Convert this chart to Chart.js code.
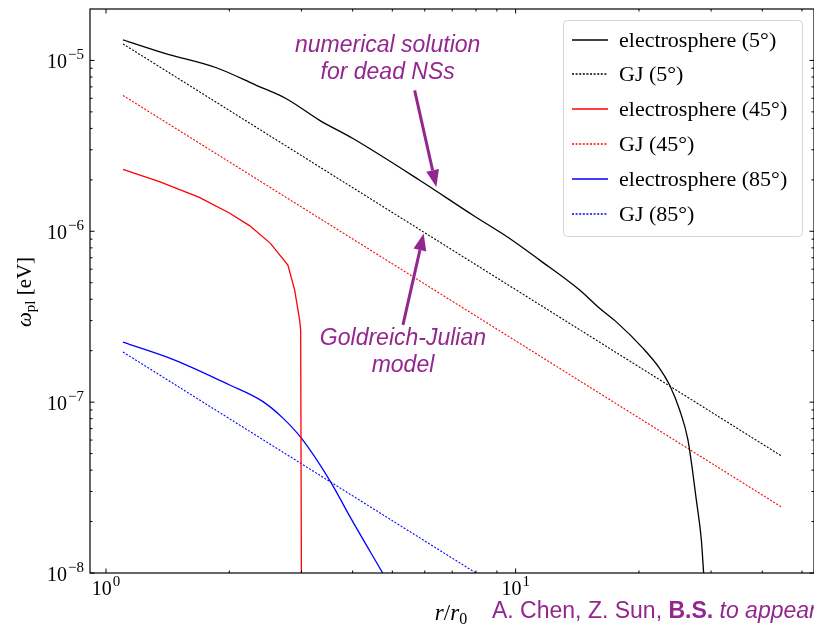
<!DOCTYPE html>
<html>
<head>
<meta charset="utf-8">
<script src="https://cdn.jsdelivr.net/npm/chart.js@4.4.1/dist/chart.umd.min.js"></script>
<style>
  html, body { margin: 0; padding: 0; background: #fff; overflow: hidden; }
  #plot { display: block; }
</style>
</head>
<body>
<canvas id="plot" width="814" height="627"></canvas>
<script>
// axis ranges (log-log)
var xMin = 0.914, xMax = 53.5;
var yMin = 1e-8, yMax = 2e-5;

// tick labels: 10^exp
var xMajor = [1, 10];
var xMajorExp = ['0', '1'];
var yMajor = [1e-8, 1e-7, 1e-6, 1e-5];
var yMajorExp = ['\u22128', '\u22127', '\u22126', '\u22125'];

// electrosphere (5 deg) - numerical solution
var es5R = [1.1, 1.404, 1.86, 2.328, 2.756, 3.323, 4.007, 5.831, 7.867, 9.67, 11.45, 14.33, 16.03, 17.61, 20.45, 22.46, 23.76, 25.14, 26.34, 27.61, 28.4, 28.77];
var es5W = [1.32e-5, 1.094e-5, 9.06e-6, 7.15e-6, 5.97e-6, 4.46e-6, 3.49e-6, 1.99e-6, 1.242e-6, 9.08e-7, 6.78e-7, 4.53e-7, 3.54e-7, 2.95e-7, 2.07e-7, 1.578e-7, 1.26e-7, 9.0e-8, 6.01e-8, 2.68e-8, 1.565e-8, 1.0e-8];

// GJ (5 deg)
var gj5R = [1.1, 44.5];
var gj5W = [1.25e-5, 4.85e-8];

// electrosphere (45 deg)
var es45R = [1.1, 1.35, 1.69, 2.0, 2.24, 2.52, 2.78, 2.888, 2.97, 2.987, 2.999];
var es45W = [2.3e-6, 1.95e-6, 1.58e-6, 1.28e-6, 1.08e-6, 8.5e-7, 6.34e-7, 4.53e-7, 3.02e-7, 2.64e-7, 1.0e-8];

// GJ (45 deg)
var gj45R = [1.1, 44.5];
var gj45W = [6.24e-6, 2.44e-8];

// electrosphere (85 deg)
var es85R = [1.1, 1.471, 2.004, 2.416, 2.7, 2.999, 3.549, 3.918, 4.736];
var es85W = [2.247e-7, 1.764e-7, 1.26e-7, 1.007e-7, 8.09e-8, 6.15e-8, 3.36e-8, 2.19e-8, 1.0e-8];

// GJ (85 deg)
var gj85R = [1.1, 8.0];
var gj85W = [1.965e-7, 1.0e-8];

// annotations, in data coordinates
var noteColor = '#93278f';
var note1Lines = ['numerical solution', 'for dead NSs'];
var note1X = 4.871, note1Y = [1.118e-5, 7.74e-6];
var arrow1 = { from: [5.668, 6.68e-6], to: [6.404, 1.817e-6] };
var note2Lines = ['Goldreich-Julian', 'model'];
var note2X = 5.308, note2Y = [2.16e-7, 1.508e-7];
var arrow2 = { from: [5.308, 2.83e-7], to: [5.963, 9.71e-7] };

/////////////////////////////////////////////////////////

function pts(xs, ys) {
  return xs.map(function (x, i) { return { x: x, y: ys[i] }; });
}

function series(label, xs, ys, color, dotted, smooth) {
  return {
    label: label,
    data: pts(xs, ys),
    borderColor: color,
    backgroundColor: color,
    borderWidth: dotted ? 1.1 : 1.3,
    borderDash: dotted ? [2, 1.6] : [],
    pointRadius: 0,
    pointHoverRadius: 0,
    tension: smooth ? 0.4 : 0,
    cubicInterpolationMode: smooth ? 'monotone' : 'default',
    fill: false,
    showLine: true
  };
}

var SERIF = '"Liberation Serif", "Times New Roman", serif';
var SANS = '"Liberation Sans", Arial, sans-serif';

function powLabel(ctx, exp, x, y, align) {
  ctx.font = '20px ' + SERIF;
  var wb = ctx.measureText('10').width;
  ctx.font = '15px ' + SERIF;
  var we = ctx.measureText(exp).width + 1;
  var x0 = align === 'right' ? x - wb - we : x - (wb + we) / 2;
  ctx.textAlign = 'left';
  ctx.textBaseline = 'alphabetic';
  ctx.font = '20px ' + SERIF;
  ctx.fillText('10', x0, y);
  ctx.font = '15px ' + SERIF;
  ctx.fillText(exp, x0 + wb + 1, y - 9);
}

function drawArrow(ctx, x0, y0, x1, y1) {
  var ang = Math.atan2(y1 - y0, x1 - x0);
  var L = 17, hw = 6.5;
  var bx = x1 - L * Math.cos(ang), by = y1 - L * Math.sin(ang);
  ctx.beginPath();
  ctx.moveTo(x0, y0);
  ctx.lineTo(bx, by);
  ctx.lineWidth = 3;
  ctx.stroke();
  ctx.beginPath();
  ctx.moveTo(x1, y1);
  ctx.lineTo(bx + hw * Math.sin(ang), by - hw * Math.cos(ang));
  ctx.lineTo(bx - hw * Math.sin(ang), by + hw * Math.cos(ang));
  ctx.closePath();
  ctx.fill();
}

function pieces(ctx, parts, x, y) {
  // parts: [text, font, dy]
  var cx = x;
  parts.forEach(function (p) {
    ctx.font = p[1];
    ctx.fillText(p[0], cx, y + (p[2] || 0));
    cx += ctx.measureText(p[0]).width;
  });
  return cx - x;
}

function piecesWidth(ctx, parts) {
  var w = 0;
  parts.forEach(function (p) { ctx.font = p[1]; w += ctx.measureText(p[0]).width; });
  return w;
}

var decor = {
  id: 'decor',
  afterDatasetsDraw: function (chart) {
    var ctx = chart.ctx, a = chart.chartArea;
    var xs = chart.scales.x, ys = chart.scales.y;
    ctx.save();
    ctx.strokeStyle = '#000';
    ctx.lineWidth = 1;

    function seg(x0, y0, x1, y1) {
      ctx.beginPath(); ctx.moveTo(x0, y0); ctx.lineTo(x1, y1); ctx.stroke();
    }

    // inward ticks, mirrored on all four sides
    for (var d = -1; d <= 2; d++) {
      for (var k = 1; k <= 9; k++) {
        var v = k * Math.pow(10, d);
        if (v < xMin || v > xMax) continue;
        var len = k === 1 ? 4.5 : 2.5;
        var p = xs.getPixelForValue(v);
        seg(p, a.bottom, p, a.bottom - len);
        seg(p, a.top, p, a.top + len);
      }
    }
    for (var e = -9; e <= -4; e++) {
      for (var j = 1; j <= 9; j++) {
        var w = j * Math.pow(10, e);
        if (w < yMin * 0.999 || w > yMax * 0.999) continue;
        var ln = j === 1 ? 4.5 : 2.5;
        var q = ys.getPixelForValue(w);
        seg(a.left, q, a.left + ln, q);
        seg(a.right, q, a.right - ln, q);
      }
    }

    // frame
    ctx.lineWidth = 1.2;
    ctx.strokeRect(a.left, a.top, a.right - a.left, a.bottom - a.top);
    ctx.restore();
  },
  afterDraw: function (chart) {
    var ctx = chart.ctx, a = chart.chartArea;
    var xs = chart.scales.x, ys = chart.scales.y;
    ctx.save();
    ctx.fillStyle = '#000';

    // tick labels
    yMajor.forEach(function (v, i) {
      powLabel(ctx, yMajorExp[i], a.left - 6, ys.getPixelForValue(v) + 8, 'right');
    });
    xMajor.forEach(function (v, i) {
      powLabel(ctx, xMajorExp[i], xs.getPixelForValue(v), a.bottom + 22, 'center');
    });

    // y title: omega_pl [eV]
    ctx.save();
    ctx.translate(31, 292);
    ctx.rotate(-Math.PI / 2);
    ctx.textAlign = 'left';
    ctx.textBaseline = 'alphabetic';
    var yParts = [['\u03c9', 'italic 21px ' + SERIF, 0], ['pl', '15px ' + SERIF, 4], [' [eV]', '21px ' + SERIF, 0]];
    pieces(ctx, yParts, -piecesWidth(ctx, yParts) / 2, 0);
    ctx.restore();

    // x title: r / r_0
    ctx.textAlign = 'left';
    var xParts = [['r', 'italic 23px ' + SERIF, 0], ['/', '23px ' + SERIF, 0], ['r', 'italic 23px ' + SERIF, 0], ['0', '16px ' + SERIF, 4]];
    pieces(ctx, xParts, 451 - piecesWidth(ctx, xParts) / 2, 620);

    // attribution
    ctx.fillStyle = noteColor;
    pieces(ctx, [
      ['A. Chen, Z. Sun, ', '23px ' + SANS, 0],
      ['B.S.', 'bold 23px ' + SANS, 0],
      [' to appear', 'italic 23px ' + SANS, 0]
    ], 492, 618);

    // annotations
    ctx.textAlign = 'center';
    ctx.font = 'italic 23px ' + SANS;
    note1Lines.forEach(function (t, i) {
      ctx.fillText(t, xs.getPixelForValue(note1X), ys.getPixelForValue(note1Y[i]));
    });
    note2Lines.forEach(function (t, i) {
      ctx.fillText(t, xs.getPixelForValue(note2X), ys.getPixelForValue(note2Y[i]));
    });
    ctx.strokeStyle = noteColor;
    [arrow1, arrow2].forEach(function (ar) {
      drawArrow(ctx,
        xs.getPixelForValue(ar.from[0]), ys.getPixelForValue(ar.from[1]),
        xs.getPixelForValue(ar.to[0]), ys.getPixelForValue(ar.to[1]));
    });

    // legend
    var lx = 563.5, ly = 20.5, lw = 239, lh = 216, r = 4;
    ctx.beginPath();
    ctx.moveTo(lx + r, ly);
    ctx.lineTo(lx + lw - r, ly); ctx.quadraticCurveTo(lx + lw, ly, lx + lw, ly + r);
    ctx.lineTo(lx + lw, ly + lh - r); ctx.quadraticCurveTo(lx + lw, ly + lh, lx + lw - r, ly + lh);
    ctx.lineTo(lx + r, ly + lh); ctx.quadraticCurveTo(lx, ly + lh, lx, ly + lh - r);
    ctx.lineTo(lx, ly + r); ctx.quadraticCurveTo(lx, ly, lx + r, ly);
    ctx.closePath();
    ctx.fillStyle = 'rgba(255,255,255,0.85)';
    ctx.fill();
    ctx.strokeStyle = '#d4d4d4';
    ctx.lineWidth = 1;
    ctx.stroke();

    chart.data.datasets.forEach(function (ds, i) {
      var yy = Math.round(39.5 + i * 34.8);
      ctx.save();
      ctx.beginPath();
      ctx.setLineDash(ds.borderDash);
      ctx.strokeStyle = ds.borderColor;
      ctx.lineWidth = 1.5;
      ctx.moveTo(572, yy); ctx.lineTo(608, yy);
      ctx.stroke();
      ctx.restore();
      ctx.fillStyle = '#000';
      ctx.textAlign = 'left';
      ctx.font = '22px ' + SERIF;
      ctx.fillText(ds.label, 619, yy + 7);
    });
    ctx.restore();
  }
};

var plotCanvas = document.getElementById('plot');

var plotData = {
  datasets: [
    series('electrosphere (5\u00b0)', es5R, es5W, '#000000', false, true),
    series('GJ (5\u00b0)', gj5R, gj5W, '#000000', true, false),
    series('electrosphere (45\u00b0)', es45R, es45W, '#ff0000', false, false),
    series('GJ (45\u00b0)', gj45R, gj45W, '#ff0000', true, false),
    series('electrosphere (85\u00b0)', es85R, es85W, '#0000ff', false, true),
    series('GJ (85\u00b0)', gj85R, gj85W, '#0000ff', true, false)
  ]
};

var plotOptions = {
  responsive: false,
  animation: false,
  devicePixelRatio: 1,
  events: [],
  layout: { padding: { top: 9, right: 0, bottom: 0, left: 0 } },
  plugins: { legend: { display: false }, tooltip: { enabled: false } },
  scales: {
    x: {
      type: 'logarithmic', min: xMin, max: xMax,
      ticks: { display: false }, grid: { display: false }, border: { display: false },
      afterFit: function (s) { s.height = 54; }
    },
    y: {
      type: 'logarithmic', min: yMin, max: yMax,
      ticks: { display: false }, grid: { display: false }, border: { display: false },
      afterFit: function (s) { s.width = 90; }
    }
  }
};

new Chart(plotCanvas, {
  type: 'scatter',
  data: plotData,
  options: plotOptions,
  plugins: [decor]
});
</script>
</body>
</html>
